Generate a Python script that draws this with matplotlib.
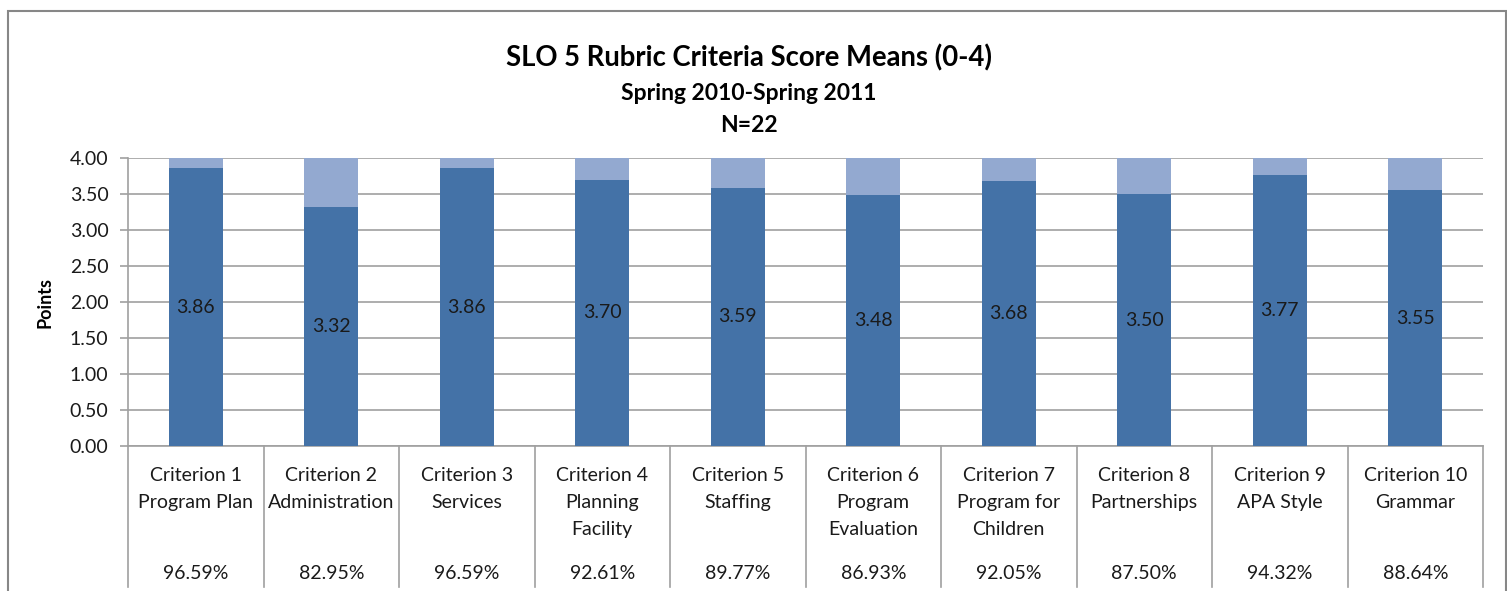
from matplotlib import pyplot as plt
from matplotlib.patches import Rectangle
import matplotlib.transforms as mtransforms
import numpy as np

plt.rcParams['font.family'] = ['Lato', 'DejaVu Sans']

# data
criteria = ["Criterion 1\nProgram Plan", "Criterion 2\nAdministration", "Criterion 3\nServices",
            "Criterion 4\nPlanning\nFacility", "Criterion 5\nStaffing", "Criterion 6\nProgram\nEvaluation",
            "Criterion 7\nProgram for\nChildren", "Criterion 8\nPartnerships", "Criterion 9\nAPA Style",
            "Criterion 10\nGrammar"]
means = [3.86, 3.32, 3.86, 3.70, 3.59, 3.48, 3.68, 3.50, 3.77, 3.55]
percents = ["96.59%", "82.95%", "96.59%", "92.61%", "89.77%", "86.93%", "92.05%", "87.50%", "94.32%", "88.64%"]
max_score = 4.0

dark = "#4472A7"
light = "#93A9D0"
grey = "#A0A0A0"
txt = "#1a1a1a"

fig = plt.figure(figsize=(15.07, 5.91), dpi=100)
W, H = 1507, 591
ax = fig.add_axes([128 / W, (H - 446) / H, 1355 / W, 288 / H])

x = np.arange(len(means))
remainder = [max_score - m for m in means]
ax.bar(x, means, width=0.4, color=dark, zorder=3)
ax.bar(x, remainder, width=0.4, bottom=means, color=light, zorder=3)

for xi, m in zip(x, means):
    ax.text(xi, m / 2, f"{m:.2f}", ha="center", va="center", fontsize=14, color=txt, zorder=4)

ax.set_xlim(-0.5, len(means) - 0.5)
ax.set_ylim(0, 4)
ticks = np.arange(0, 4.01, 0.5)
ax.set_yticks(ticks)
ax.set_yticklabels([f"{v:.2f}" for v in ticks], fontsize=14, color=txt)
ax.yaxis.grid(True, color=grey, linewidth=1.2, zorder=0)
ax.set_xticks([])
ax.tick_params(axis="y", length=6, color=grey, width=1.2, pad=8)
for s in ["top", "right"]:
    ax.spines[s].set_visible(False)
for s in ["left", "bottom"]:
    ax.spines[s].set_color(grey)
    ax.spines[s].set_linewidth(1.2)
ax.set_ylabel("Points", fontsize=13, fontweight="bold", labelpad=12)

# data table under the axis
trans = mtransforms.blended_transform_factory(ax.transData, ax.transAxes)
for xb in np.arange(-0.5, len(means), 1.0):
    ax.plot([xb, xb], [0, -0.49], color=grey, linewidth=1.2, transform=trans, clip_on=False)
for xi, lab, pct in zip(x, criteria, percents):
    ax.text(xi, -0.074, lab, ha="center", va="top", fontsize=14, linespacing=1.72,
            transform=trans, color=txt)
    ax.text(xi, -0.441, pct, ha="center", va="center", fontsize=14, transform=trans, color=txt)

# titles
fig.text(749 / W, 1 - 58 / H, "SLO 5 Rubric Criteria Score Means (0-4)",
         ha="center", va="center", fontsize=19.8, fontweight="bold")
fig.text(749 / W, 1 - 93 / H, "Spring 2010-Spring 2011", ha="center", va="center",
         fontsize=16.5, fontweight="bold")
fig.text(749 / W, 1 - 125 / H, "N=22", ha="center", va="center", fontsize=16.5, fontweight="bold")

# outer chart frame
fig.patches.append(Rectangle((8 / W, -0.1), (1506 - 8) / W, 1.1 - 11 / H, transform=fig.transFigure,
                             fill=False, edgecolor="#878787", linewidth=1.5))

plt.savefig("out.png", dpi=100)
